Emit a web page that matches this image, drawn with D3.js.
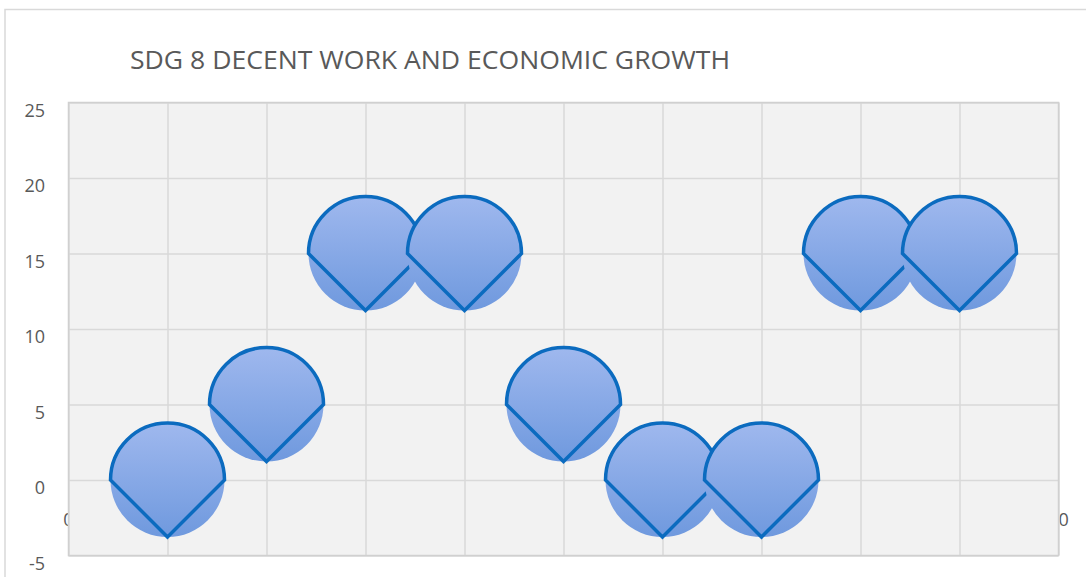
<!DOCTYPE html>
<html>
<head>
<meta charset="utf-8">
<script src="https://cdn.jsdelivr.net/npm/d3@7"></script>
<style>
  body { margin: 0; background: #fff; }
  text { font-family: "Open Sans", "Noto Sans", sans-serif; fill: #595959; }
</style>
</head>
<body>
<script>
// datos del grafico
const titulo = 'SDG 8 DECENT WORK AND ECONOMIC GROWTH';
const xValores = [1, 2, 3, 4, 5, 6, 7, 8, 9];
const yValores = [0, 5, 15, 15, 5, 0, 0, 15, 15];
const yTicks = [-5, 0, 5, 10, 15, 20, 25];
const xTicks = [0, 10];

const [w, h] = [1086, 577];
const margen = { left: 68.5, right: 1058.5, top: 102.5, bottom: 555.5 };
const radio = 57;

const svg = d3.select('body').append('svg')
    .attr('width', w)
    .attr('height', h);

// degradado de los marcadores
const grad = svg.append('defs').append('linearGradient')
    .attr('id', 'relleno')
    .attr('x1', 0).attr('y1', 0).attr('x2', 0).attr('y2', 1);
grad.append('stop').attr('offset', '0%').attr('stop-color', '#9fb8ee');
grad.append('stop').attr('offset', '100%').attr('stop-color', '#6f99de');

// borde del grafico
svg.append('rect')
    .attr('x', 5).attr('y', 9.5)
    .attr('width', w + 20).attr('height', h + 20)
    .attr('fill', '#fff')
    .attr('stroke', '#d9d9d9')
    .attr('stroke-width', 1.5);

// escalas
const xScale = d3.scaleLinear().domain([0, 10]).range([margen.left, margen.right]);
const yScale = d3.scaleLinear().domain([-5, 25]).range([margen.bottom, margen.top]);

// titulo
svg.append('text')
    .attr('x', 130).attr('y', 69)
    .attr('font-size', 25)
    .attr('textLength', 600)
    .attr('lengthAdjust', 'spacingAndGlyphs')
    .text(titulo);

// etiquetas eje x (quedan detras del area de trazado)
svg.append('g')
    .selectAll('text')
    .data(xTicks)
    .enter()
    .append('text')
    .attr('x', d => xScale(d))
    .attr('y', yScale(-2.5) + 8)
    .attr('text-anchor', 'middle')
    .attr('font-size', 18)
    .text(d => d);

// area de trazado
svg.append('rect')
    .attr('x', margen.left).attr('y', margen.top)
    .attr('width', margen.right - margen.left)
    .attr('height', margen.bottom - margen.top)
    .attr('fill', '#f2f2f2');

// rejilla
const xAxis = d3.axisBottom(xScale).ticks(10).tickSize(-(margen.bottom - margen.top)).tickFormat('');
svg.append('g')
    .attr('transform', 'translate(0,' + margen.bottom + ')')
    .call(xAxis)
    .call(g => g.select('.domain').remove())
    .call(g => g.selectAll('line').attr('stroke', '#d9d9d9').attr('stroke-width', 1.5));

const yAxis = d3.axisLeft(yScale).tickValues(yTicks).tickSize(-(margen.right - margen.left)).tickFormat('');
svg.append('g')
    .attr('transform', 'translate(' + margen.left + ',0)')
    .call(yAxis)
    .call(g => g.select('.domain').remove())
    .call(g => g.selectAll('line').attr('stroke', '#d9d9d9').attr('stroke-width', 1.5));

svg.append('rect')
    .attr('x', margen.left).attr('y', margen.top)
    .attr('width', margen.right - margen.left)
    .attr('height', margen.bottom - margen.top)
    .attr('fill', 'none')
    .attr('stroke', '#d0d0d0')
    .attr('stroke-width', 1.5);

// etiquetas eje y (algo desplazadas hacia abajo, como en el original)
svg.append('g')
    .selectAll('text')
    .data(yTicks)
    .enter()
    .append('text')
    .attr('x', 45)
    .attr('y', d => yScale(d) + 14)
    .attr('text-anchor', 'end')
    .attr('font-size', 18)
    .text(d => d);

// marcadores
const puntos = xValores.map((x, i) => [x, yValores[i]]);

const marca = svg.append('g')
    .selectAll('g')
    .data(puntos)
    .enter()
    .append('g')
    .attr('transform', d => 'translate(' + xScale(d[0]) + ',' + yScale(d[1]) + ')');

marca.append('circle')
    .attr('r', radio)
    .attr('fill', 'url(#relleno)');

marca.append('path')
    .attr('d', 'M' + (-radio) + ',0 A' + radio + ',' + radio + ' 0 0 1 ' + radio + ',0 L0,' + radio + ' Z')
    .attr('fill', 'none')
    .attr('stroke', '#0b6bbf')
    .attr('stroke-width', 3.5)
    .attr('stroke-linejoin', 'miter');
</script>
</body>
</html>
